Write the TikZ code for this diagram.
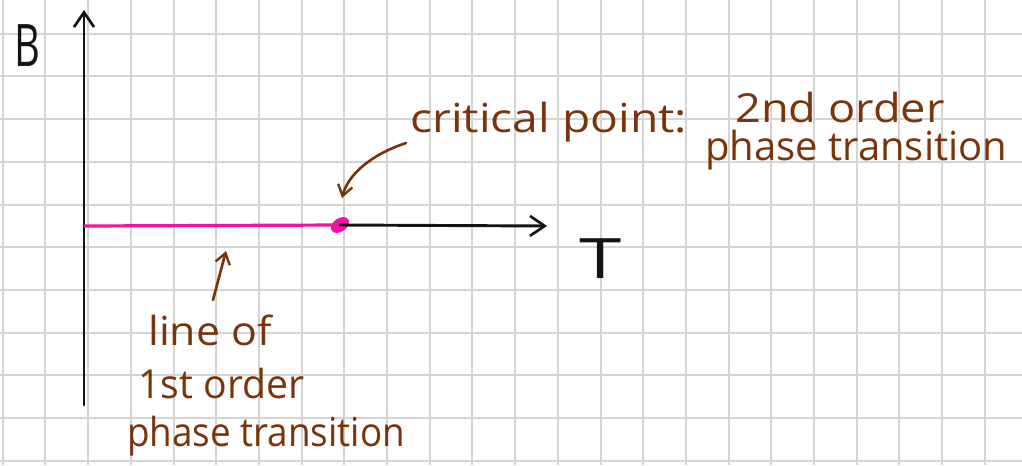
\documentclass[tikz,border=0pt]{standalone}
\usepackage{fontspec}
\setmainfont{Open Sans}
\usetikzlibrary{arrows.meta,shapes.geometric}
\definecolor{ink}{RGB}{20,20,20}
\definecolor{brownink}{RGB}{122,52,12}
\definecolor{pinkink}{RGB}{240,20,160}
\definecolor{gridgray}{RGB}{212,212,212}
\tikzset{
  gridline/.style={draw=gridgray, line width=1.5pt},
  axisline/.style={draw=ink, line width=2.2pt, line cap=round},
  axishead/.style={-{Straight Barb[length=11pt,width=15pt,line width=2pt]}},
  hand/.style={font=\fontsize{30}{34}\selectfont, text=brownink, inner sep=0pt},
  bigletter/.style={font=\fontsize{44}{48}\selectfont, text=ink, inner sep=0pt},
  notearrow/.style={draw=brownink, line width=2pt, line cap=round, -{Straight Barb[length=8pt,width=11pt,line width=1.8pt]}}
}
\begin{document}
\begin{tikzpicture}[x=0.75pt,y=-0.75pt]
\useasboundingbox (0,0) rectangle (1022,465);
\fill[white] (0,0) rectangle (1022,465);
% grid
\foreach \k in {0,...,23} { \draw[gridline] ({2.7+42.7*\k},0) -- ({2.7+42.7*\k},465); }
\foreach \k in {0,...,10} { \draw[gridline] (0,{33.7+42.7*\k}) -- (1022,{33.7+42.7*\k}); }
% coordinates
\coordinate (ybot) at (84,405);
\coordinate (ytop) at (84,10);
\coordinate (xstart) at (84,226);
\coordinate (xend) at (547,226);
% critical point
\node[ellipse, fill=pinkink, minimum width=15pt, minimum height=10pt, inner sep=0pt, rotate=35] (cp) at (340,225) {};
% axes
\draw[axisline, axishead] (ybot) -- (ytop);
\draw[draw=pinkink, line width=2.4pt] (xstart) -- (cp.center);
\draw[axisline, axishead] (cp.center) -- (xend);
% axis labels
\node[bigletter, xscale=0.68] (B) at (27,46) {B};
\node[bigletter, xscale=1.3, yscale=0.95] (T) at (601,259) {T};
% annotations
\node[hand, anchor=base west, xscale=1.155] (crit) at (410,132) {critical point:};
\node[hand, anchor=base west, xscale=1.13] (second) at (735,122) {2nd order};
\node[hand, anchor=base west] (secondb) at (705,160) {phase transition};
\node[hand, anchor=base west, xscale=1.07] (lineof) at (148,345) {line of};
\node[hand, anchor=base west, xscale=0.98] (first) at (138,398) {1st order};
\node[hand, anchor=base west, xscale=0.92] (firstb) at (127,446) {phase transition};
\coordinate (critstart) at (406,143);
\coordinate (critend) at (342,198);
\draw[notearrow] (critstart) .. controls (370,155) and (348,175) .. (critend);
\coordinate (linestart) at (213,300);
\coordinate (lineend) at (226,251);
\draw[notearrow] (linestart) -- (lineend);
\end{tikzpicture}
\end{document}
